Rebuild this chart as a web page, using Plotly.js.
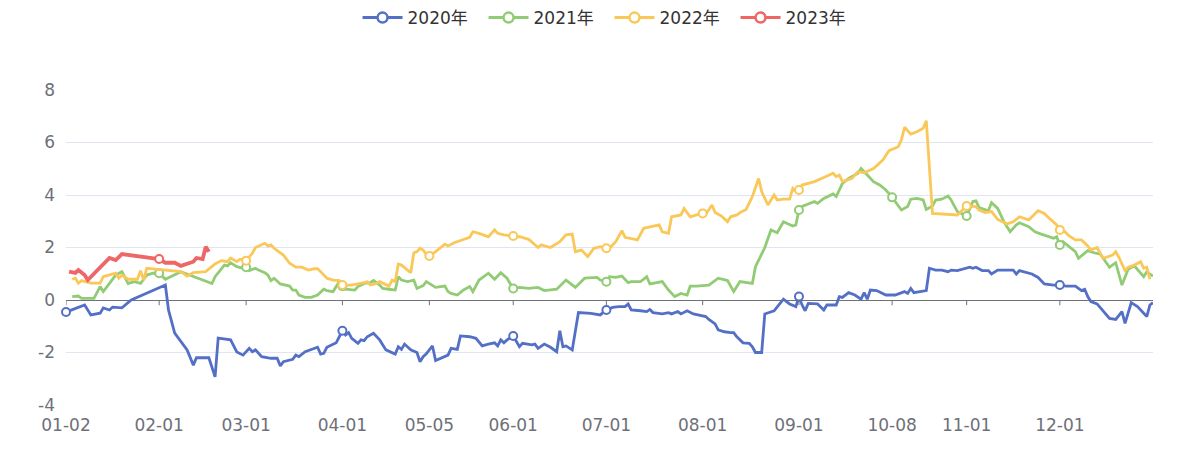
<!DOCTYPE html>
<html>
<head>
<meta charset="utf-8">
<script src="https://cdn.plot.ly/plotly-3.0.1.min.js"></script>
<style>
html,body{margin:0;padding:0;background:#ffffff;}
#chart{width:1201px;height:450px;}
</style>
</head>
<body>
<div id="chart"></div>
<script>
// ---- axis categories: MM-DD days of a year, common market holidays removed ----
const monthLengths = [31,28,31,30,31,30,31,31,30,31,30,31];
const closedDays = ['01-01','04-04','04-05','05-01','05-02','05-03','05-04',
  '10-01','10-02','10-03','10-04','10-05','10-06','10-07'];
const categories = [];
monthLengths.forEach(function(len, m){
  for (let d = 1; d <= len; d++) {
    const key = String(m+1).padStart(2,'0') + '-' + String(d).padStart(2,'0');
    if (closedDays.indexOf(key) < 0) categories.push(key);
  }
});

const tickLabels = ['01-02','02-01','03-01','04-01','05-05','06-01','07-01','08-01','09-01','10-08','11-01','12-01'];
const yTicks = [-4,-2,0,2,4,6,8];

const seriesNames = ['2020年','2021年','2022年','2023年'];
const seriesColors = ['#5470c6','#91cc75','#fac858','#ee6666'];

// ---- 2020 ----
const dates2020 = ['01-02','01-06','01-08','01-10','01-13','01-14','01-16','01-17','01-20','01-23',
'02-03','02-04','02-06','02-10','02-11','02-12','02-13','02-17','02-19','02-20','02-24','02-26','02-28',
'03-02','03-03','03-04','03-06','03-09','03-11','03-12','03-13','03-16','03-17','03-18','03-20','03-24','03-25','03-26','03-27','03-30','03-31',
'04-01','04-02','04-03','04-06','04-08','04-09','04-10','04-11','04-13','04-15','04-17','04-20','04-21','04-22','04-23','04-25','04-27','04-28','04-29','04-30',
'05-06','05-07','05-11','05-12','05-14','05-15','05-18','05-20','05-22','05-24','05-26','05-27','05-28','05-29','05-30',
'06-01','06-02','06-03','06-04','06-07','06-08','06-09','06-11','06-13','06-15','06-16','06-17','06-18','06-20','06-22','06-26','06-29',
'07-01','07-02','07-03','07-05','07-07','07-08','07-09','07-12','07-14','07-15','07-16','07-19','07-21','07-22','07-24','07-25','07-27','07-29','07-31',
'08-02','08-03','08-05','08-06','08-08','08-10','08-11','08-12','08-14','08-16','08-17','08-18','08-20','08-21','08-23','08-24','08-27','08-29','08-31',
'09-01','09-02','09-03','09-04','09-07','09-09','09-10','09-13','09-14','09-15','09-17','09-19','09-21','09-22','09-23','09-24','09-26','09-29',
'10-09','10-12','10-13','10-14','10-15','10-19','10-20','10-22','10-24','10-26','10-27','10-29',
'11-02','11-03','11-04','11-06','11-08','11-09','11-11','11-16','11-17','11-18','11-22','11-24','11-26','11-29',
'12-01','12-03','12-06','12-08','12-09','12-10','12-11','12-13','12-15','12-17','12-19','12-21','12-22','12-24','12-26','12-29','12-30','12-31'];
const values2020 = [-0.46,-0.30,-0.19,-0.57,-0.50,-0.30,-0.38,-0.27,-0.30,0.00,
0.57,-0.38,-1.26,-1.90,-2.20,-2.48,-2.20,-2.20,-2.93,-1.45,-1.52,-1.98,-2.10,
-1.84,-1.97,-1.90,-2.16,-2.22,-2.22,-2.51,-2.35,-2.26,-2.10,-2.16,-1.97,-1.80,-2.06,-2.03,-1.80,-1.63,-1.40,
-1.17,-1.33,-1.24,-1.46,-1.65,-1.52,-1.55,-1.40,-1.27,-1.52,-1.90,-2.06,-1.78,-1.88,-1.68,-1.90,-2.00,-2.35,-2.16,-2.05,
-1.75,-2.31,-2.10,-1.84,-1.88,-1.37,-1.40,-1.46,-1.75,-1.68,-1.63,-1.75,-1.52,-1.63,-1.52,
-1.37,-1.59,-1.78,-1.65,-1.71,-1.68,-1.84,-1.68,-1.80,-1.97,-1.17,-1.78,-1.75,-1.90,-0.48,-0.51,-0.57,
-0.38,-0.32,-0.28,-0.25,-0.25,-0.15,-0.38,-0.41,-0.44,-0.36,-0.48,-0.53,-0.48,-0.53,-0.44,-0.53,-0.41,-0.53,-0.57,
-0.63,-0.74,-0.91,-1.14,-1.21,-1.24,-1.24,-1.40,-1.63,-1.65,-1.78,-2.00,-2.00,-0.53,-0.44,-0.41,0.03,-0.15,-0.25,
0.13,-0.19,-0.41,-0.13,-0.15,-0.38,-0.19,-0.19,0.13,0.10,0.28,0.19,0.03,0.28,0.03,0.38,0.36,0.19,
0.19,0.32,0.25,0.44,0.28,0.36,1.21,1.14,1.14,1.08,1.14,1.12,
1.25,1.21,1.25,1.12,1.12,0.99,1.14,1.14,0.99,1.12,0.99,0.86,0.61,0.57,
0.57,0.53,0.53,0.36,0.41,0.13,-0.06,-0.15,-0.44,-0.70,-0.74,-0.44,-0.89,-0.10,-0.25,-0.63,-0.19,-0.10];

// ---- 2021 ----
const dates2021 = ['01-04','01-06','01-07','01-09','01-11','01-13','01-14','01-16','01-18','01-20','01-22','01-24','01-26','01-28','01-29','01-30',
'02-01','02-03','02-08','02-18','02-19','02-22','02-23','02-24','02-26','02-28',
'03-01','03-02','03-04','03-05','03-07','03-08','03-09','03-10','03-12','03-14','03-15','03-16','03-17','03-18','03-20','03-22','03-24','03-26','03-27','03-29','03-30','03-31',
'04-01','04-02','04-07','04-08','04-09','04-10','04-12','04-13','04-15','04-16','04-18','04-20','04-21','04-22','04-24','04-26','04-27','04-29','04-30',
'05-07','05-10','05-11','05-12','05-14','05-16','05-18','05-19','05-21','05-24','05-26','05-28','05-30','05-31',
'06-01','06-03','06-06','06-09','06-11','06-15','06-18','06-21','06-24','06-28','06-29',
'07-01','07-02','07-04','07-06','07-08','07-09','07-12','07-14','07-15','07-19','07-21','07-23','07-25','07-27','07-28','07-30',
'08-03','08-06','08-09','08-11','08-13','08-17','08-18','08-21','08-23','08-25','08-27','08-30','08-31',
'09-01','09-02','09-06','09-07','09-09','09-12','09-13','09-15','09-17','09-20','09-21','09-23','09-25','09-27','09-29',
'10-08','10-09','10-11','10-13','10-14','10-16','10-18','10-19','10-21','10-22','10-24','10-26','10-27','10-29',
'11-01','11-03','11-04','11-05','11-07','11-08','11-09','11-11','11-13','11-15','11-17','11-18','11-21','11-23','11-25','11-27','11-29','11-30',
'12-01','12-02','12-04','12-06','12-07','12-10','12-12','12-14','12-17','12-19','12-21','12-23','12-25','12-28','12-29','12-31'];
const values2021 = [0.13,0.15,0.06,0.06,0.06,0.51,0.32,0.63,0.95,1.08,0.63,0.70,0.63,0.95,0.99,1.02,
1.02,0.79,1.08,0.63,0.89,1.33,1.30,1.42,1.27,1.21,
1.25,1.12,1.21,1.14,1.04,0.95,0.74,0.83,0.61,0.57,0.53,0.38,0.38,0.19,0.10,0.10,0.19,0.41,0.36,0.32,0.53,0.70,
0.53,0.41,0.38,0.51,0.57,0.63,0.66,0.74,0.57,0.44,0.41,0.38,0.89,0.76,0.70,0.76,0.44,0.55,0.70,
0.48,0.53,0.32,0.25,0.19,0.38,0.51,0.32,0.76,1.02,0.79,1.04,0.83,0.63,
0.44,0.48,0.44,0.48,0.36,0.41,0.76,0.48,0.83,0.86,0.76,
0.70,0.89,0.86,0.91,0.66,0.70,0.70,0.89,0.61,0.70,0.38,0.13,0.25,0.19,0.53,0.53,
0.57,0.83,0.74,0.32,0.70,0.63,1.27,2.00,2.67,2.56,2.98,2.82,2.86,
3.43,3.56,3.75,3.68,3.87,4.04,3.94,4.44,4.63,4.83,5.01,4.76,4.51,4.38,4.19,
3.91,3.75,3.43,3.56,3.84,3.87,3.81,3.45,3.58,3.81,3.84,3.96,3.81,3.37,
3.20,3.75,3.78,3.52,3.43,3.40,3.71,3.49,2.98,2.60,2.86,2.94,2.79,2.60,2.51,2.44,2.35,2.41,
2.10,2.22,2.03,1.84,1.59,1.88,1.80,1.75,1.25,1.42,0.57,1.17,1.30,0.89,1.08,0.91];

// ---- 2022 ----
const dates2022 = ['01-04','01-05','01-06','01-07','01-10','01-13','01-14','01-18','01-19','01-20','01-22','01-25','01-26','01-27','01-28',
'02-08','02-10','02-12','02-16','02-19','02-21','02-23','02-24','02-26','02-27','02-28',
'03-01','03-03','03-04','03-05','03-07','03-08','03-09','03-10','03-11','03-13','03-15','03-17','03-19','03-21','03-23','03-24','03-25','03-27','03-29','03-31',
'04-01','04-02','04-06','04-10','04-11','04-12','04-14','04-15','04-17','04-18','04-19','04-20','04-21','04-22','04-25','04-26','04-27','04-28','04-29','04-30',
'05-05','05-07','05-10','05-11','05-13','05-18','05-19','05-21','05-24','05-26','05-27','05-29',
'06-01','06-03','06-06','06-09','06-10','06-13','06-16','06-18','06-20','06-21','06-23','06-25','06-27','06-29',
'07-01','07-02','07-04','07-05','07-06','07-07','07-09','07-11','07-13','07-15','07-18','07-19','07-21','07-22','07-24','07-25','07-26','07-28','07-30',
'08-01','08-02','08-04','08-05','08-07','08-09','08-10','08-12','08-13','08-15','08-17','08-19','08-20','08-22','08-24','08-25','08-27','08-29','08-30','08-31',
'09-01','09-02','09-06','09-09','09-12','09-13','09-14','09-15','09-18','09-20','09-22','09-25','09-28','09-30',
'10-10','10-11','10-12','10-14','10-16','10-18','10-19','10-21','10-24','10-27','10-29',
'11-01','11-04','11-05','11-07','11-09','11-11','11-14','11-16','11-18','11-21','11-24','11-26','11-28','11-30',
'12-01','12-02','12-04','12-06','12-08','12-10','12-11','12-13','12-14','12-15','12-18','12-19','12-20','12-22','12-23','12-25','12-27','12-28','12-29','12-30'];
const values2022 = [0.79,0.83,0.64,0.74,0.64,0.64,0.89,1.02,0.83,0.95,0.79,0.79,1.12,0.76,1.21,
1.08,0.91,1.04,1.08,1.37,1.50,1.46,1.60,1.46,1.55,1.55,
1.50,1.78,2.00,2.06,2.16,2.06,2.10,1.97,1.88,1.71,1.40,1.25,1.25,1.14,1.19,1.19,1.08,0.83,0.76,0.74,
0.57,0.57,0.57,0.66,0.69,0.57,0.63,0.70,0.57,0.53,0.76,0.70,1.37,1.33,1.04,1.80,1.84,1.97,1.90,1.75,
1.68,1.84,2.13,2.06,2.18,2.39,2.60,2.54,2.41,2.67,2.54,2.48,
2.44,2.41,2.31,2.00,2.10,2.00,2.22,2.48,2.51,1.84,1.90,1.65,1.97,2.03,
1.97,1.97,2.22,2.41,2.64,2.39,2.35,2.29,2.73,2.79,2.86,2.60,2.54,3.17,3.20,3.24,3.49,3.17,3.24,
3.30,3.27,3.62,3.33,3.20,2.98,3.17,3.24,3.33,3.45,3.94,4.63,4.13,3.62,4.00,3.81,3.84,3.84,4.25,4.13,
4.19,4.38,4.51,4.67,4.83,4.70,4.76,4.51,4.63,4.89,4.85,5.01,5.33,5.69,
5.84,6.10,6.58,6.32,6.41,6.54,6.83,3.30,3.27,3.24,3.24,
3.58,3.56,3.43,3.33,3.37,3.07,2.90,2.98,3.17,3.05,3.40,3.30,3.07,2.86,
2.67,2.67,2.44,2.29,2.29,2.06,1.90,2.00,1.78,1.59,1.71,1.84,1.63,1.12,1.25,1.33,1.46,1.21,1.25,0.79];

// ---- 2023 ----
const dates2023 = ['01-03','01-05','01-06','01-08','01-09','01-12','01-16','01-18','01-20',
'02-01','02-03','02-06','02-08','02-12','02-13','02-15','02-16','02-17'];
const values2023 = [1.08,1.03,1.14,0.95,0.76,1.14,1.60,1.52,1.75,
1.56,1.42,1.42,1.30,1.46,1.60,1.56,2.03,1.84];

const allDates = [dates2020, dates2021, dates2022, dates2023];
const allValues = [values2020, values2021, values2022, values2023];

const FONT = '"DejaVu Sans", "Noto Sans CJK SC", sans-serif';
const traces = [];
allDates.forEach(function(ds, i){
  const isLabel = ds.map(function(d){ return tickLabels.indexOf(d) >= 0; });
  traces.push({
    type: 'scatter', mode: 'lines+markers',
    x: ds, y: allValues[i], name: seriesNames[i],
    showlegend: false, hoverinfo: 'skip', cliponaxis: false,
    line: {color: seriesColors[i], width: i === 3 ? 3.8 : 2.8},
    marker: {symbol: 'circle', color: '#ffffff', opacity: 1,
      size: isLabel.map(function(b){ return b ? 8 : 0; }),
      line: {color: seriesColors[i], width: isLabel.map(function(b){ return b ? 2 : 0; })}}
  });
});
// legend entries
seriesNames.forEach(function(n, i){
  traces.push({
    type: 'scatter', mode: 'lines+markers', x: [null], y: [null], name: n,
    showlegend: true, hoverinfo: 'skip',
    line: {color: seriesColors[i], width: 3},
    marker: {symbol: 'circle', size: 10, color: '#ffffff', line: {color: seriesColors[i], width: 2.5}}
  });
});

// small axis ticks hanging below the zero axis line
const tickShapes = tickLabels.map(function(lbl){
  const idx = categories.indexOf(lbl);
  return {type: 'line', xref: 'x', yref: 'y', x0: idx, x1: idx, y0: 0, y1: -0.2,
    line: {color: '#6E7079', width: 1}, layer: 'above'};
});

const layout = {
  width: 1201, height: 450,
  margin: {l: 66, r: 48, t: 90, b: 45, pad: 0},
  paper_bgcolor: '#ffffff', plot_bgcolor: '#ffffff',
  font: {family: FONT, size: 17, color: '#6E7079'},
  showlegend: true,
  legend: {orientation: 'h', xref: 'container', x: 0.2977, xanchor: 'left',
    yref: 'container', y: 1 - 18/450, yanchor: 'middle',
    font: {family: FONT, size: 17, color: '#333333'},
    itemwidth: 40, entrywidth: 71, entrywidthmode: 'pixels', bgcolor: 'rgba(0,0,0,0)'},
  xaxis: {type: 'category', categoryorder: 'array', categoryarray: categories,
    range: [0, categories.length - 1], autorange: false,
    tickmode: 'array', tickvals: tickLabels, ticktext: tickLabels,
    showgrid: false, zeroline: false, showline: false, ticks: '',
    tickfont: {family: FONT, size: 17, color: '#6E7079'}, ticklabelstandoff: 8, fixedrange: true},
  yaxis: {range: [-4, 8], autorange: false, tickmode: 'array', tickvals: yTicks, ticktext: yTicks.map(String),
    showgrid: true, gridcolor: '#E0E6F1', gridwidth: 1,
    zeroline: true, zerolinecolor: '#6E7079', zerolinewidth: 1,
    showline: false, ticks: '', tickfont: {family: FONT, size: 17, color: '#6E7079'},
    ticklabelstandoff: 10, fixedrange: true},
  shapes: tickShapes
};

Plotly.newPlot('chart', traces, layout, {displayModeBar: false, staticPlot: true});
</script>
</body>
</html>
